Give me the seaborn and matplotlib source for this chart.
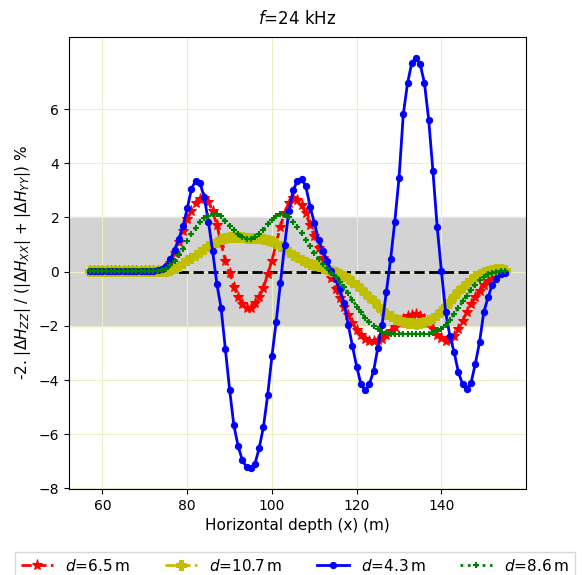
import numpy as np
import matplotlib
matplotlib.use("Agg")
import matplotlib.pyplot as plt
import seaborn as sns

# horizontal positions (m)
x = np.arange(57, 156)

# d = 6.5 m
red = [0.02] * 18 + [
    0.12, 0.33, 0.68, 1.08, 1.5, 1.93, 2.25, 2.52, 2.67, 2.73,            # 75-84
    2.58, 2.22, 1.72, 1.05, 0.4, -0.06, -0.55, -0.92, -1.18, -1.33,       # 85-94
    -1.33, -1.17, -0.93, -0.6, -0.08, 0.4, 1.05, 1.66, 2.18, 2.55,        # 95-104
    2.72, 2.65, 2.45, 2.15, 1.72, 1.3, 0.88, 0.5, 0.14, -0.22,            # 105-114
    -0.65, -0.98, -1.3, -1.6, -1.9, -2.15, -2.35, -2.48, -2.55, -2.56,    # 115-124
    -2.54, -2.47, -2.35, -2.2, -2.05, -1.9, -1.75, -1.64, -1.59, -1.57,   # 125-134
    -1.62, -1.75, -1.9, -2.1, -2.32, -2.45, -2.55, -2.52, -2.38, -2.13,   # 135-144
    -1.82, -1.5, -1.2, -0.93, -0.7, -0.5, -0.33, -0.18, -0.08, 0.0,       # 145-154
    0.03]                                                                 # 155

# d = 10.7 m
yellow = [0.02] * 19 + [
    0.05, 0.12, 0.2, 0.31, 0.42, 0.52, 0.63, 0.74, 0.83,                  # 76-84
    0.93, 1.03, 1.11, 1.19, 1.24, 1.28, 1.29, 1.29, 1.27, 1.25,           # 85-94
    1.24, 1.25, 1.24, 1.22, 1.18, 1.12, 1.04, 0.94, 0.84, 0.74,           # 95-104
    0.63, 0.53, 0.44, 0.36, 0.3, 0.24, 0.19, 0.14, 0.09, 0.04,            # 105-114
    -0.02, -0.08, -0.15, -0.25, -0.38, -0.5, -0.64, -0.77, -0.95, -1.1,   # 115-124
    -1.27, -1.42, -1.55, -1.65, -1.73, -1.8, -1.85, -1.88, -1.91, -1.92,  # 125-134
    -1.9, -1.87, -1.8, -1.72, -1.6, -1.45, -1.27, -1.08, -0.9, -0.72,     # 135-144
    -0.57, -0.42, -0.3, -0.17, -0.08, -0.03, 0.03, 0.07, 0.09, 0.08,      # 145-154
    0.06]

# d = 4.3 m
blue = [0.03] * 16 + [
    0.05, 0.1, 0.2, 0.45, 0.8, 1.2, 1.67, 2.33, 3.05, 3.36,               # 73-82
    3.28, 2.75, 1.85, 0.75, -0.45, -1.35, -2.85, -4.35, -5.66, -6.43,     # 83-92
    -6.95, -7.22, -7.26, -7.08, -6.5, -5.72, -4.54, -3.11, -1.84, -0.42,  # 93-102
    1.0, 2.24, 3.0, 3.35, 3.41, 3.15, 2.4, 1.8, 1.17, 0.78,               # 103-112
    0.4, 0.03, -0.28, -0.65, -1.15, -1.95, -2.75, -3.5, -4.15, -4.38,     # 113-122
    -4.15, -3.66, -2.8, -1.95, -0.75, 0.45, 1.85, 3.47, 5.8, 6.95,        # 123-132
    7.7, 7.9, 7.65, 6.95, 5.6, 3.7, 1.65, 0.02, -1.5, -2.38,              # 133-142
    -2.97, -3.7, -4.16, -4.32, -4.1, -3.4, -2.6, -1.5, -0.95, -0.48,      # 143-152
    -0.27, -0.1, -0.04]                                                   # 153-155

# d = 8.6 m
green = [0.02] * 17 + [
    0.05, 0.1, 0.23, 0.39, 0.6, 0.85, 1.14, 1.38, 1.6, 1.82, 1.97,        # 74-84
    2.06, 2.11, 2.12, 2.04, 1.88, 1.69, 1.53, 1.38, 1.27, 1.2,            # 85-94
    1.21, 1.26, 1.38, 1.55, 1.75, 1.92, 2.05, 2.12, 2.1, 2.0,             # 95-104
    1.83, 1.64, 1.41, 1.18, 0.95, 0.7, 0.48, 0.3, 0.12, -0.04,            # 105-114
    -0.2, -0.38, -0.57, -0.8, -1.04, -1.29, -1.48, -1.7, -1.87, -2.0,     # 115-124
    -2.13, -2.22, -2.27, -2.29, -2.29, -2.29, -2.29, -2.29, -2.29, -2.29, # 125-134
    -2.29, -2.29, -2.29, -2.26, -2.2, -2.12, -1.96, -1.77, -1.57, -1.34,  # 135-144
    -1.1, -0.88, -0.67, -0.48, -0.32, -0.2, -0.1, -0.04, 0.0, 0.02,       # 145-154
    0.03]

labels = ["$d$=6.5$\\,$m", "$d$=10.7$\\,$m", "$d$=4.3$\\,$m", "$d$=8.6$\\,$m"]

fig = plt.figure(figsize=(5.82, 5.75), dpi=100)
ax = fig.add_axes([0.1186, 0.1496, 0.7847, 0.7861])

ax.axhspan(-2, 2, color="lightgray", zorder=0)
ax.grid(True, color="#eeeec4", linewidth=0.8)
ax.set_axisbelow("line")

# zero reference line
ax.plot(x, np.zeros(len(x)), color="k", linestyle="--", linewidth=2, zorder=2)

sns.lineplot(x=x, y=red, color="red", linestyle="--", linewidth=2, marker="*",
             markersize=8, markeredgecolor="red", label=labels[0], ax=ax, zorder=3)
sns.lineplot(x=x, y=yellow, color="y", linestyle="--", linewidth=2, marker="P",
             markersize=7.5, markeredgecolor="y", label=labels[1], ax=ax, zorder=3)
sns.lineplot(x=x, y=blue, color="blue", linestyle="-", linewidth=2, marker="o",
             markersize=4.5, markeredgecolor="blue", label=labels[2], ax=ax, zorder=3)
sns.lineplot(x=x, y=green, color="green", linestyle=":", linewidth=2, marker="+",
             markersize=5, markeredgewidth=1.5, markeredgecolor="green",
             label=labels[3], ax=ax, zorder=3)

ax.set_title("$f$=24 kHz", fontsize=12, pad=9)
ax.set_xlabel("Horizontal depth (x) (m)", fontsize=11)
ax.set_ylabel("-2. $|\\Delta H_{ZZ}|$ / ($|\\Delta H_{XX}|$ + $|\\Delta H_{YY}|$) %", fontsize=11)
ax.tick_params(labelsize=10)
ax.set_yticks([-8, -6, -4, -2, 0, 2, 4, 6])

ax.get_legend().remove()
handles, labs = ax.get_legend_handles_labels()
fig.legend(handles, labs, loc="upper center", bbox_to_anchor=(0.507, 0.054),
           ncol=4, fontsize=11, frameon=True, fancybox=False,
           edgecolor="#cccccc", columnspacing=2.25, handlelength=2.1)

fig.savefig("out.png", dpi=100)
